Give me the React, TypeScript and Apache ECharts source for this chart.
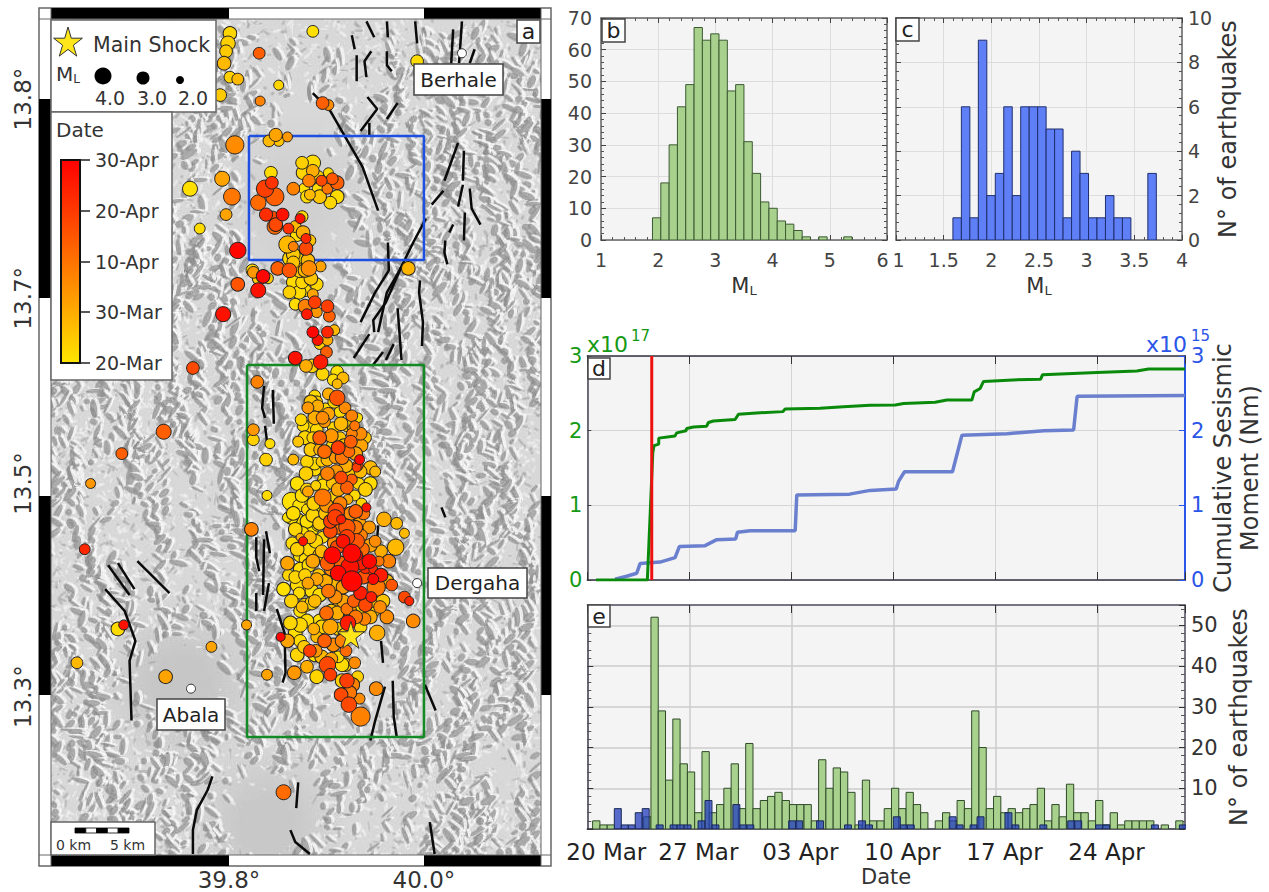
import React, { useEffect, useRef } from "react";
import * as echarts from "echarts";

const FONT = "DejaVu Sans";
const INK = "#333333";

// ---- Panel a: map. Latitude axis: the printed labels are uneven, so they are listed separately.
const lonTicks = [39.8, 40.0];
const latTicks = [13.8, 13.7, 13.607, 13.5];
const latLabels = ["13.8°", "13.7°", "13.5°", "13.3°"];
const dateBarLabels = ["30-Apr", "20-Apr", "10-Apr", "30-Mar", "20-Mar"];

const mainShock = [[39.925, 13.531]];
const towns = [
  [40.039, 13.823],
  [39.993, 13.557],
  [39.761, 13.504],
];
const blueBox = [[39.8205, 13.7814], [40.0, 13.7814], [40.0, 13.7192], [39.8205, 13.7192], [39.8205, 13.7814]];
const greenBox = [[39.8185, 13.6665], [40.0, 13.6665], [40.0, 13.4797], [39.8185, 13.4797], [39.8185, 13.6665]];

// lon, lat, ML, days after 20 March
const eventsNorth = [
  [39.801,13.833,3,3],[39.799,13.828,3.2,4],[39.797,13.824,2.8,5],[39.795,13.818,3,8],[39.801,13.811,2.6,4],
  [39.809,13.81,2.6,8],[39.791,13.802,2.8,5],[39.831,13.823,2.6,24],[39.851,13.807,2.2,3],[39.832,13.799,2.2,18],
  [39.806,13.777,4,16],[39.841,13.779,2.6,8],[39.848,13.782,2.9,12],[39.851,13.779,2.4,6],[39.86,13.781,2.2,14],
  [39.76,13.755,3.3,1],[39.793,13.76,3.3,12],[39.803,13.751,3.7,20],[39.797,13.742,2.6,12],[39.77,13.735,2.4,2],
  [39.809,13.724,3.6,40],[39.809,13.707,3,26],[39.83,13.704,3.3,38],[39.824,13.714,2.8,2],[39.794,13.692,3.3,38],
  [39.763,13.665,2.8,28],[39.868,13.67,3,38],[39.829,13.658,2.8,18],
  [39.843,13.763,2.8,2],[39.837,13.755,3.8,30],[39.844,13.758,2.8,32],[39.847,13.751,4,24],[39.83,13.748,3.4,22],
  [39.866,13.755,2.8,18],[39.838,13.742,2.9,33],[39.845,13.741,2.4,28],[39.855,13.742,2.8,38],[39.847,13.736,3.4,22],
  [39.848,13.737,3,28],[39.861,13.735,2.4,32],[39.86,13.727,3.8,8],[39.866,13.722,3,5],[39.866,13.726,2.2,18],
  [39.868,13.736,2.6,8],[39.85,13.715,3,24],[39.862,13.714,3.2,26],[39.835,13.711,3,40],[39.825,13.713,2.6,14],
  [39.831,13.71,3,4],[39.84,13.71,2.4,5],
  [39.886,13.768,3.4,2],[39.886,13.764,2.8,10],[39.875,13.768,2.8,4],[39.876,13.763,3,3],[39.882,13.759,2.8,18],
  [39.891,13.761,2.8,4],[39.895,13.759,2.4,28],[39.902,13.763,2.2,2],[39.906,13.76,2.6,26],[39.911,13.758,3,24],
  [39.901,13.755,2.4,20],[39.911,13.751,3,2],[39.904,13.748,2.8,3],[39.893,13.751,3,6],[39.883,13.752,2.4,8],
  [39.877,13.755,2.4,1],[39.88,13.751,2.8,2],[39.891,13.755,2.4,2],[39.984,13.715,3,9],[39.993,13.819,2.8,2],
  [39.886,13.834,2.6,1],[39.896,13.798,2.8,24],[39.902,13.797,2.4,16],
];
const eventsStrip = [
  [39.875,13.741,2.6,2],[39.873,13.74,2.2,38],[39.876,13.733,3,10],[39.883,13.729,2.6,6],[39.879,13.73,2.2,34],
  [39.879,13.725,3,28],[39.881,13.719,3,8],[39.882,13.715,3.4,16],[39.894,13.716,2.4,12],[39.873,13.714,3.2,6],
  [39.866,13.718,2.8,6],[39.866,13.708,3,2],[39.875,13.708,2.8,3],[39.878,13.704,2.8,2],[39.886,13.702,2.4,12],
  [39.888,13.698,2.8,30],[39.901,13.696,2.8,30],[39.878,13.696,3,18],[39.88,13.692,2.4,36],[39.89,13.693,2.4,14],
  [39.903,13.691,2.6,24],[39.908,13.684,2.4,8],[39.886,13.683,2.6,40],[39.891,13.679,2.4,38],[39.901,13.683,2.6,34],
  [39.901,13.679,2.4,10],[39.893,13.677,2.4,4],[39.9,13.673,2.6,24],[39.894,13.668,3.2,36],[39.885,13.666,3,4],
  [39.879,13.666,2.8,10],[39.896,13.662,2.8,3],[39.911,13.663,2.8,1],[39.917,13.66,2.6,8],[39.907,13.659,2.6,2],
  [39.87,13.732,3,2],[39.862,13.72,3,3],[39.87,13.72,2.8,1],[39.872,13.703,3,2],[39.862,13.703,2.8,4],
  [39.884,13.71,3,6],[39.89,13.707,2.8,3],[39.878,13.714,3,8],[39.868,13.697,2.6,2],
];
const eventsCluster = [
  [39.911,13.657,2.2,8],[39.911,13.65,3.4,26],[39.902,13.652,2.6,10],[39.888,13.651,2.6,2],[39.89,13.648,2.6,4],
  [39.881,13.645,2.6,14],[39.891,13.646,2.6,10],[39.919,13.645,2.6,16],[39.914,13.643,2.6,2],[39.926,13.641,2.6,18],
  [39.902,13.642,2.8,12],[39.888,13.64,3,10],[39.896,13.64,2.8,16],[39.874,13.639,2.6,3],[39.932,13.64,2.2,2],
  [39.881,13.635,3,1],[39.907,13.635,2.6,3],[39.921,13.636,2.6,3],[39.929,13.636,2.2,20],[39.898,13.638,2.6,14],
  [39.89,13.634,2.8,3],[39.935,13.632,2.8,16],[39.926,13.632,2.4,18],[39.914,13.63,2.6,6],[39.893,13.63,3,24],
  [39.871,13.628,2.4,6],[39.886,13.63,2.6,4],[39.936,13.626,2.8,12],[39.925,13.628,2.8,24],[39.912,13.625,3,30],
  [39.898,13.623,3,22],[39.906,13.626,2.6,2],[39.923,13.623,2.6,22],[39.893,13.624,2.6,10],[39.916,13.62,3,20],
  [39.909,13.62,2.6,14],[39.895,13.618,2.4,5],[39.934,13.619,2.2,40],[39.932,13.616,2.4,28],[39.931,13.615,2,30],
  [39.945,13.615,3,8],[39.95,13.613,2.4,8],[39.866,13.619,2.4,8],[39.88,13.618,2.8,3],[39.838,13.619,2.8,4],
  [39.842,13.627,2.2,2],[39.825,13.634,2.6,14],[39.825,13.629,2.6,4],[39.917,13.614,2,6],[39.901,13.612,3,18],
  [39.926,13.609,2.4,24],[39.915,13.61,2.8,28],[39.906,13.607,2.6,6],[39.921,13.605,2.8,24],[39.933,13.607,2.6,3],
  [39.889,13.606,2.2,4],[39.88,13.604,2.8,3],[39.881,13.603,2.4,12],[39.896,13.6,3.7,20],[39.864,13.598,4,1],
  [39.839,13.601,2.2,2],[39.907,13.6,2.8,4],[39.922,13.599,2.2,10],[39.929,13.601,2.4,2],[39.936,13.597,2.4,3],
  [39.941,13.595,2,38],[39.93,13.593,3,24],[39.91,13.593,3.6,28],[39.886,13.591,3,3],[39.88,13.594,2.4,2],
  [39.87,13.589,3,1],[39.864,13.59,3,1],[39.86,13.59,2.2,1],[39.904,13.588,3,30],[39.909,13.59,3.4,30],
  [39.915,13.589,2,36],[39.934,13.587,2.8,12],[39.921,13.585,3.6,26],[39.891,13.586,2.6,1],[39.904,13.583,3,28],
  [39.959,13.589,3.2,10],[39.972,13.587,2.6,8],[39.98,13.582,2.2,8],[39.823,13.584,3,18],[39.936,13.581,2.6,18],
  [39.883,13.58,2.8,8],[39.873,13.58,1.8,10],[39.876,13.578,2,38],[39.896,13.58,2.6,3],[39.95,13.578,2.6,16],
  [39.971,13.575,3.6,8],[39.883,13.574,3.2,3],[39.917,13.578,3,38],[39.921,13.58,3.4,30],[39.911,13.575,3,28],
  [39.931,13.578,3.4,26],[39.906,13.571,3.7,40],[39.926,13.572,4,40],[39.931,13.571,2.6,38],[39.944,13.568,3.2,40],
  [39.954,13.568,2.2,20],[39.964,13.568,3,18],[39.924,13.565,4,38],[39.86,13.567,3,12],[39.861,13.561,2.6,3],
  [39.856,13.554,3,1],[39.878,13.569,2.6,2],[39.886,13.568,3,12],[39.901,13.567,3.2,24],[39.94,13.565,2.8,34],
  [39.948,13.564,2,34],[39.936,13.567,3,36],[39.956,13.561,3,36],[39.947,13.563,2,32],[39.912,13.562,3.4,40],
  [39.89,13.559,2.8,12],[39.881,13.557,2.6,12],[39.948,13.559,2.4,40],[39.926,13.558,4.5,40],[39.951,13.555,4,20],
  [39.967,13.556,2.6,26],[39.902,13.553,3,20],[39.885,13.553,3,2],[39.917,13.555,3,14],[39.935,13.552,3,36],
  [39.946,13.55,2.4,36],[39.888,13.548,2.8,8],[39.909,13.55,3,16],[39.928,13.548,2.8,24],[39.94,13.546,3,28],
  [39.948,13.544,3.4,3],[39.98,13.55,2.6,28],[39.985,13.548,2,34],[39.9,13.542,3,22],[39.921,13.544,2.6,20],
  [39.911,13.542,3,10],[39.88,13.538,3,2],[39.939,13.539,2.8,18],[39.962,13.54,3,16],[39.989,13.538,3,16],
  [39.922,13.537,3.4,36],[39.904,13.535,3.4,12],[39.887,13.534,2.6,10],[39.818,13.536,2.2,12],[39.952,13.532,3.4,10],
  [39.853,13.53,2,40],[39.898,13.528,3,24],[39.89,13.53,2.6,8],[39.907,13.526,3,16],[39.883,13.523,2.8,30],
  [39.889,13.523,2.8,14],[39.92,13.523,2.6,22],[39.916,13.516,3,2],[39.929,13.517,2.6,16],[39.912,13.52,2.6,2],
  [39.901,13.516,3.6,28],[39.904,13.511,2.8,30],[39.839,13.511,2.4,12],[39.921,13.508,3.2,30],[39.927,13.506,3,18],
  [39.915,13.501,3,28],[39.924,13.502,3,20],[39.951,13.504,3,16],[39.923,13.496,3.4,28],[39.934,13.499,2.4,16],
  [39.935,13.49,4.2,18],
  [39.878,13.596,3,1],[39.885,13.584,3,0],[39.873,13.571,3,1],[39.878,13.561,2.8,4],[39.893,13.551,3,2],
  [39.878,13.546,3,3],[39.893,13.538,3,1],[39.914,13.546,3,4],[39.934,13.543,3,2],[39.95,13.548,3,5],
  [39.919,13.531,3,6],[39.873,13.536,3.2,3],[39.868,13.584,3,3],[39.873,13.564,3,2],[39.87,13.556,3,2],
  [39.893,13.594,3,0],[39.893,13.571,3,6],[39.919,13.564,3,10],[39.909,13.556,3,8],[39.924,13.543,3,12],
  [39.873,13.543,2.8,1],[39.898,13.609,3,2],[39.888,13.614,2.8,2],[39.873,13.528,2.8,2],[39.888,13.521,3,1],
  [39.919,13.516,3,1],
];
const eventsInfill = [
  [39.884,13.648,3,6],[39.899,13.644,3,2],[39.908,13.648,2.8,3],[39.915,13.637,3,8],[39.928,13.634,2.8,10],
  [39.878,13.63,3,3],[39.884,13.624,3,5],[39.876,13.636,2.6,2],[39.905,13.631,3,14],[39.918,13.626,3,6],
  [39.93,13.622,3,12],[39.94,13.63,2.6,6],[39.901,13.619,2.8,8],[39.888,13.617,2.8,2],[39.879,13.612,3,4],
  [39.897,13.606,3,2],[39.91,13.613,3,14],[39.92,13.616,3,10],[39.935,13.613,2.8,8],[39.945,13.607,3,2],
  [39.94,13.604,3,4],[39.87,13.607,3,1],[39.875,13.601,3,2],[39.912,13.604,3,12],[39.925,13.612,2.8,6],
  [39.872,13.596,2.8,1],[39.866,13.592,3,2],[39.88,13.588,3,1],[39.887,13.597,3,4],[39.875,13.582,3,2],
  [39.889,13.578,3,3],[39.865,13.577,2.8,2],[39.87,13.574,3,4],[39.882,13.566,3,2],[39.895,13.573,2.8,8],
  [39.893,13.587,3,5],[39.899,13.592,3,6],[39.868,13.56,2.8,3],[39.877,13.554,3,1],[39.864,13.548,3,4],
  [39.872,13.552,2.6,2],[39.885,13.547,3,4],[39.892,13.561,2.8,6],[39.899,13.558,3,10],[39.905,13.564,3,16],
  [39.9,13.596,3,14],[39.914,13.597,3,18],[39.925,13.592,3,16],[39.938,13.592,2.8,20],[39.944,13.585,2.8,14],
  [39.912,13.585,3,22],[39.93,13.585,3,20],[39.945,13.576,3,12],[39.908,13.577,3,16],[39.915,13.567,3,24],
  [39.937,13.574,3,22],[39.956,13.573,2.8,10],[39.962,13.558,3,8],[39.938,13.56,3,26],[39.917,13.548,3,12],
  [39.958,13.548,3,6],[39.945,13.54,3,10],[39.955,13.545,2.8,16],[39.93,13.54,3,20],[39.935,13.535,2.8,3],
  [39.87,13.521,3,3],[39.877,13.525,2.8,5],[39.868,13.532,3,1],[39.863,13.537,3,3],[39.88,13.515,2.8,10],
  [39.895,13.52,3,8],[39.89,13.51,3,3],[39.905,13.519,2.8,12],[39.895,13.535,3,4],[39.905,13.543,3,6],
  [39.875,13.545,2.6,8],[39.86,13.528,3,12],[39.867,13.512,3,14],[39.916,13.528,3,18],[39.912,13.534,2.8,4],
  [39.932,13.51,2.6,4],[39.916,13.508,3,4],
];
const eventsWest = [
  [39.733,13.633,3.3,24],[39.69,13.622,2.6,24],[39.658,13.607,2.2,14],[39.652,13.574,2.4,34],[39.686,13.534,3,2],
  [39.692,13.536,2.2,38],[39.644,13.517,2.6,8],[39.735,13.51,3,12],[39.782,13.525,2.4,12],[39.856,13.452,3.3,22],
];

const faultTraces = [
  [[39.886,13.803],[39.904,13.794],[39.937,13.766],[39.953,13.744]],
  [[39.941,13.839],[39.949,13.831]],
  [[39.962,13.839],[39.963,13.831]],
  [[39.991,13.839],[39.993,13.828]],
  [[40.03,13.835],[40.028,13.818]],
  [[40.039,13.839],[40.036,13.818]],
  [[39.926,13.832],[39.929,13.825]],
  [[39.931,13.822],[39.931,13.809]],
  [[39.946,13.824],[39.939,13.819],[39.941,13.811]],
  [[39.962,13.824],[39.962,13.817],[39.967,13.814]],
  [[40.052,13.825],[40.047,13.818]],
  [[39.942,13.801],[39.952,13.795],[39.935,13.784]],
  [[39.973,13.798],[39.962,13.79]],
  [[39.944,13.788],[39.944,13.781]],
  [[40.035,13.778],[40.021,13.759]],
  [[40.041,13.774],[40.04,13.759]],
  [[40.02,13.754],[40.008,13.747]],
  [[40.04,13.757],[40.035,13.746]],
  [[40.047,13.755],[40.049,13.745],[40.058,13.737]],
  [[40.03,13.737],[40.026,13.733]],
  [[40.042,13.743],[40.041,13.729]],
  [[40.022,13.729],[40.021,13.723],[40.024,13.717]],
  [[40.002,13.74],[39.989,13.728],[39.975,13.714],[39.962,13.703],[39.953,13.683]],
  [[39.963,13.728],[39.964,13.714],[39.95,13.703],[39.935,13.688]],
  [[39.977,13.716],[39.961,13.698],[39.948,13.689],[39.949,13.683]],
  [[39.996,13.709],[39.995,13.703],[39.999,13.688],[39.998,13.676]],
  [[39.973,13.695],[39.977,13.669]],
  [[39.944,13.682],[39.928,13.67]],
  [[39.958,13.673],[39.947,13.666]],
  [[39.969,13.677],[39.961,13.669]],
  [[39.836,13.656],[39.834,13.645],[39.837,13.64]],
  [[39.845,13.654],[39.846,13.637]],
  [[39.837,13.636],[39.839,13.628]],
  [[39.838,13.583],[39.842,13.572]],
  [[39.828,13.58],[39.828,13.57],[39.831,13.563]],
  [[39.836,13.579],[39.835,13.551]],
  [[39.841,13.557],[39.836,13.543]],
  [[39.828,13.552],[39.828,13.543]],
  [[39.849,13.544],[39.857,13.532],[39.858,13.512],[39.855,13.507]],
  [[39.953,13.586],[39.952,13.579]],
  [[39.956,13.528],[39.958,13.517]],
  [[39.968,13.508],[39.969,13.49],[39.972,13.48]],
  [[39.96,13.505],[39.95,13.488],[39.945,13.478]],
  [[40.001,13.506],[40.012,13.493]],
  [[40.018,13.595],[40.022,13.59]],
  [[39.676,13.566],[39.698,13.551]],
  [[39.686,13.567],[39.703,13.554]],
  [[39.706,13.568],[39.739,13.552]],
  [[39.673,13.554],[39.693,13.543],[39.704,13.528],[39.698,13.518],[39.7,13.488]],
  [[39.783,13.46],[39.778,13.453],[39.767,13.443],[39.763,13.433],[39.763,13.421]],
  [[39.871,13.457],[39.869,13.444]],
  [[39.863,13.433],[39.868,13.427],[39.883,13.421]],
  [[40.006,13.437],[40.011,13.421]],
];

// ---- Panel b / c: magnitude histograms
const binStartB = 1.9;
const binWidthB = 0.1454;
const countsB = [7,18,30,42,49,67,63,65,63,47,49,31,21,12,10,6,5,3,1,0,1,0,0,1];
const binStartC = 1.597;
const binWidthC = 0.0889;
const countsC = [1,6,1,9,2,3,6,2,6,6,6,5,5,1,4,3,1,1,2,1,1,0,0,3];

// ---- Panel d: cumulative moment [day, value]
const momentGreen = [
  [0.6,0],[4.12,0],[4.49,1.7],[4.58,1.8],[4.9,1.82],[4.9,1.9],[6.02,1.93],[6.13,1.97],[6.77,2.0],[6.82,2.03],
  [7.28,2.05],[8.19,2.06],[8.31,2.11],[8.65,2.13],[10.14,2.15],[10.37,2.22],[11.86,2.24],[13.41,2.255],[13.57,2.29],
  [15.97,2.3],[17.57,2.32],[19.4,2.34],[21.12,2.345],[21.7,2.365],[23.86,2.38],[24.67,2.41],[26.38,2.41],[26.54,2.52],
  [26.95,2.565],[27.18,2.66],[29.2,2.68],[31.1,2.69],[31.23,2.75],[34.96,2.78],[37.7,2.8],[38.5,2.825],[41,2.825],
];
const momentBlue = [
  [1.9,0.01],[2.7,0.05],[3.39,0.09],[3.62,0.22],[4.99,0.24],[6.02,0.3],[6.32,0.45],[8.08,0.46],[8.88,0.54],[10.18,0.55],
  [10.3,0.64],[11.17,0.66],[14.26,0.66],[14.37,1.14],[17.99,1.15],[19.4,1.2],[21.19,1.22],[21.35,1.32],[21.76,1.45],
  [25.05,1.45],[25.7,1.94],[28.78,1.96],[31.3,2.0],[33.36,2.01],[33.6,2.46],[41,2.47],
];
const mainShockDay = 4.42;

// ---- Panel e: daily rate histograms (half-day bins)
const rateStartGreen = 0.366;
const rateWidthGreen = 0.5;
const rateGreen = [
  2,1,1,0,0,0,0,3,52,29,12,27,16,14,4,19,4,6,10,16,5,21,5,7,8,9,7,6,6,6,2,17,10,15,14,9,1,12,2,2,5,10,5,9,6,4,0,2,4,2,
  7,5,29,20,5,8,4,5,4,5,6,10,2,6,3,11,4,4,2,7,1,4,1,2,2,2,2,0,1,0,2,
];
const rateStartBlue = 1.853;
const rateWidthBlue = 0.4785;
const rateBlue = [
  5,1,1,4,5,0,1,0,1,1,1,0,2,7,1,0,0,6,1,1,0,0,0,0,0,2,2,0,0,2,0,0,0,1,0,2,1,0,0,0,3,1,1,0,0,0,0,0,3,1,
  0,1,3,0,0,0,4,1,0,0,0,1,0,0,0,2,2,0,0,1,1,0,0,0,0,0,0,1,0,0,0,1,
];
const dateTicks = ["20 Mar", "27 Mar", "03 Apr", "10 Apr", "17 Apr", "24 Apr"];

function toBins(start: number, width: number, counts: number[]) {
  return counts.map((c, i) => [start + i * width, start + (i + 1) * width, c]);
}

// Terrain shading only: a deterministic texture standing in for the map's raster backdrop.
function hillshade(W: number, H: number): string {
  const raw = document.createElement("canvas");
  raw.width = W;
  raw.height = H;
  const ctx = raw.getContext("2d");
  if (!ctx) return "";
  let seed = 20240;
  const rnd = () => {
    seed = (Math.imul(seed, 1664525) + 1013904223) >>> 0;
    return seed / 4294967296;
  };
  const bump = (x: number, y: number, cx: number, cy: number, rx: number, ry: number) =>
    Math.exp(-(((x - cx) / rx) ** 2 + ((y - cy) / ry) ** 2));
  const flat = (x: number, y: number) =>
    Math.min(
      1,
      1.1 * bump(x, y, 240, 170, 50, 140) +
        1.2 * bump(x, y, 130, 665, 65, 60) +
        1.2 * bump(x, y, 215, 800, 65, 50) +
        0.6 * bump(x, y, 300, 620, 70, 170) +
        0.5 * bump(x, y, 300, 220, 50, 150)
    );
  ctx.fillStyle = "#d8d8d8";
  ctx.fillRect(0, 0, W, H);
  const plains: [number, number, number, string][] = [
    [130, 665, 90, "198,198,198"],
    [215, 805, 85, "200,200,200"],
    [245, 180, 90, "208,208,208"],
  ];
  plains.forEach(([cx, cy, r, c]) => {
    const g = ctx.createRadialGradient(cx, cy, r * 0.3, cx, cy, r);
    g.addColorStop(0, `rgba(${c},1)`);
    g.addColorStop(1, `rgba(${c},0)`);
    ctx.fillStyle = g;
    ctx.fillRect(cx - r, cy - r, 2 * r, 2 * r);
  });
  const blob = (x: number, y: number, len: number, wid: number, ang: number, col: string, alpha: number) => {
    ctx.globalAlpha = alpha;
    ctx.fillStyle = col;
    ctx.beginPath();
    ctx.ellipse(x, y, len, wid, ang, 0, 6.2832);
    ctx.fill();
  };
  // fine light grain
  for (let k = 0; k < 9000; k++) {
    const x = rnd() * W;
    const y = rnd() * H;
    if (rnd() < flat(x, y)) continue;
    blob(x, y, 1 + rnd() * 4, 0.6 + rnd() * 1.2, rnd() * 3.14, rnd() < 0.6 ? "#f4f4f4" : "#a8a8a8", 0.6);
  }
  // ridges run roughly north-south; shaded spurs hang off them on both sides
  for (let k = 0; k < 1000; k++) {
    let x = rnd() * W;
    let y = rnd() * H;
    const theta = 1.57 + (rnd() - 0.5) * 0.9 + 0.35 * Math.sin(x / 120 + y / 150);
    const steps = 3 + Math.floor(rnd() * 6);
    for (let j = 0; j < steps; j++) {
      x += Math.cos(theta) * 10 + (rnd() - 0.5) * 5;
      y += Math.sin(theta) * 10 + (rnd() - 0.5) * 5;
      if (rnd() < flat(x, y)) continue;
      const side = rnd() < 0.5 ? -1 : 1;
      const spur = theta + side * 0.7 + (rnd() - 0.5) * 0.6;
      const len = 3 + rnd() * 7;
      const wid = 1.2 + rnd() * 2.6;
      blob(x + 3.5, y - 1.5, len, wid * 0.9, spur, "#f5f5f5", 0.85);
      blob(x, y, len, wid, spur, "#909090", 0.72);
    }
  }
  ctx.globalAlpha = 1;
  const out = document.createElement("canvas");
  out.width = W;
  out.height = H;
  const octx = out.getContext("2d");
  if (!octx) return raw.toDataURL("image/jpeg", 0.75);
  octx.filter = "blur(0.7px)";
  octx.drawImage(raw, 0, 0);
  return out.toDataURL("image/jpeg", 0.75);
}

const starPts = [[50,0],[61,35],[98,35],[68,57],[79,91],[50,70],[21,91],[32,57],[2,35],[39,35]];

function txt(text: string, x: number, y: number, fontSize: number, extra: any = {}) {
  return {
    type: "text",
    z: 110,
    x,
    y,
    style: { text, fontFamily: FONT, fontSize, fill: INK, verticalAlign: "middle", align: "left", ...extra },
  };
}
function box(x: number, y: number, w: number, h: number, z = 100, stroke = "#666666", lw = 1.5, fill = "#ffffff") {
  return { type: "rect", z, shape: { x, y, width: w, height: h }, style: { fill, stroke, lineWidth: lw } };
}
function tagged(label: string, x: number, y: number, w: number, h: number, size: number) {
  return [
    box(x, y, w, h, 100, "#444444", 1.5),
    txt(label, x + w / 2, y + h / 2, size, { align: "center", fill: "#222222" }),
  ];
}
function blackBar(x: number, y: number, w: number, h: number) {
  return { type: "rect", z: 2, shape: { x, y, width: w, height: h }, style: { fill: "#000000" } };
}

function histSeries(xi: number, yi: number, bins: number[][], fill: string, stroke: string, z = 3) {
  return {
    type: "custom",
    xAxisIndex: xi,
    yAxisIndex: yi,
    z,
    clip: true,
    data: bins,
    encode: { x: [0, 1], y: 2 },
    renderItem: (_p: any, api: any) => {
      const n = api.value(2);
      if (!n) return null;
      const a = api.coord([api.value(0), 0]);
      const b = api.coord([api.value(1), n]);
      return {
        type: "rect",
        shape: { x: a[0], y: b[1], width: b[0] - a[0], height: a[1] - b[1] },
        style: { fill, stroke, lineWidth: 1 },
      };
    },
  };
}

const AXIS = "#666666";
function panelX(grid: number, pos: string, min: number, max: number, interval: number, o: any = {}) {
  return {
    type: "value",
    gridIndex: grid,
    position: pos,
    min,
    max,
    interval,
    axisLine: { show: true, onZero: false, lineStyle: { color: AXIS, width: 1.5 } },
    axisTick: { show: true, inside: true, length: 5, lineStyle: { color: "#444444" } },
    axisLabel: { show: false },
    splitLine: { show: false },
    ...o,
  };
}
function panelY(grid: number, pos: string, min: number, max: number, interval: number, o: any = {}) {
  return {
    type: "value",
    gridIndex: grid,
    position: pos,
    min,
    max,
    interval,
    axisLine: { show: true, onZero: false, lineStyle: { color: AXIS, width: 1.5 } },
    axisTick: { show: true, inside: true, length: 5, lineStyle: { color: "#444444" } },
    axisLabel: { show: false },
    splitLine: { show: false },
    ...o,
  };
}
const minor = (n: number, len = 3) => ({ show: true, splitNumber: n, length: len, lineStyle: { color: "#555555" } });
const split = (color = "#dddddd", width = 1) => ({ show: true, lineStyle: { color, width, type: "solid" } });
const tickLbl = (fontSize: number, color = "#444444", margin = 8, o: any = {}) => ({
  show: true,
  fontFamily: FONT,
  fontSize,
  color,
  margin,
  ...o,
});
const mlName = {
  name: "{m|M}{s|L}",
  nameLocation: "middle",
  nameGap: 34,
  nameTextStyle: {
    rich: {
      m: { fontFamily: FONT, fontSize: 21, color: INK },
      s: { fontFamily: FONT, fontSize: 13, color: INK, padding: [10, 0, 0, 0] },
    },
  },
};
const numRich = (extra: any) => ({
  n: { fontFamily: FONT, fontSize: 19, color: "#444444" },
  e: { fontFamily: FONT, fontSize: 19, color: "#444444", ...extra },
});

export default function App() {
  const ref = useRef<HTMLDivElement>(null);
  useEffect(() => {
    document.body.style.margin = "0";
    document.body.style.overflow = "hidden";
    if (!ref.current) return;
    const chart = echarts.init(ref.current, undefined, { renderer: "svg" });

    const events = [...eventsNorth, ...eventsStrip, ...eventsCluster, ...eventsInfill, ...eventsWest].sort((a, b) => a[3] - b[3]);
    const shade = hillshade(490, 836);

    const legendStar = starPts.map((p) => [53 + p[0] * 0.3, 27 + p[1] * 0.32]);
    const barYs = [160, 211, 262, 312, 363];

    const graphic: any[] = [
      { type: "rect", z: 0, shape: { x: 39, y: 8, width: 512, height: 858 }, style: { fill: "#ffffff", stroke: "#666666", lineWidth: 1.5 } },
      { type: "image", z: 1, style: { image: shade, x: 51, y: 19, width: 490, height: 836 } },
      blackBar(51, 8, 178, 11), blackBar(424, 8, 117, 11),
      blackBar(51, 855, 178, 11), blackBar(424, 855, 117, 11),
      blackBar(39, 99, 12, 199), blackBar(39, 496, 12, 199),
      blackBar(541, 99, 10, 199), blackBar(541, 496, 10, 199),
      { type: "line", z: 2, shape: { x1: 39, y1: 19, x2: 551, y2: 19 }, style: { stroke: "#666666", lineWidth: 1 } },
      { type: "line", z: 2, shape: { x1: 39, y1: 855, x2: 551, y2: 855 }, style: { stroke: "#666666", lineWidth: 1 } },
      { type: "line", z: 2, shape: { x1: 51, y1: 8, x2: 51, y2: 866 }, style: { stroke: "#666666", lineWidth: 1 } },
      { type: "line", z: 2, shape: { x1: 541, y1: 8, x2: 541, y2: 866 }, style: { stroke: "#666666", lineWidth: 1 } },

      ...tagged("a", 517, 20, 23, 23, 22),
      ...tagged("b", 602, 19, 23, 23, 22),
      ...tagged("c", 896, 18, 23, 23, 22),
      ...tagged("d", 588, 358, 22, 21, 22),
      ...tagged("e", 588, 605, 22, 22, 22),
      ...tagged("Berhale", 414, 64, 89, 31, 20),
      ...tagged("Dergaha", 428, 568, 99, 30, 20),
      ...tagged("Abala", 157, 699, 68, 31, 20),

      // symbol legend
      box(51, 20, 165, 92),
      { type: "polygon", z: 110, shape: { points: legendStar }, style: { fill: "#ffe61a", stroke: "#333333", lineWidth: 1 } },
      txt("Main Shock", 93, 45, 20.5),
      txt("{m|M}{s|L}", 56, 74, 20, {
        rich: {
          m: { fontFamily: FONT, fontSize: 20, fill: INK },
          s: { fontFamily: FONT, fontSize: 12, fill: INK, padding: [10, 0, 0, 0] },
        },
      }),
      { type: "circle", z: 110, shape: { cx: 103, cy: 76, r: 8.5 }, style: { fill: "#000000" } },
      { type: "circle", z: 110, shape: { cx: 143, cy: 78, r: 6.5 }, style: { fill: "#000000" } },
      { type: "circle", z: 110, shape: { cx: 180, cy: 80, r: 4 }, style: { fill: "#000000" } },
      txt("4.0", 110, 98, 19, { align: "center" }),
      txt("3.0", 152, 98, 19, { align: "center" }),
      txt("2.0", 193, 98, 19, { align: "center" }),

      // colour bar
      box(51, 112, 121, 268),
      txt("Date", 56, 130, 20),
      {
        type: "rect",
        z: 110,
        shape: { x: 61, y: 160, width: 19, height: 203 },
        style: {
          fill: new echarts.graphic.LinearGradient(0, 0, 0, 1, [
            { offset: 0, color: "#ff0000" },
            { offset: 1, color: "#ffe600" },
          ]),
          stroke: "#111111",
          lineWidth: 2,
        },
      },
      ...barYs.map((y) => ({ type: "line", z: 110, shape: { x1: 80, y1: y, x2: 90, y2: y }, style: { stroke: "#222222", lineWidth: 1.5 } })),
      ...dateBarLabels.map((t, i) => txt(t, 95, barYs[i], 19)),

      // scale bar
      box(51, 822, 104, 33),
      ...[0, 1, 2, 3, 4].map((i) => ({
        type: "rect",
        z: 110,
        shape: { x: 75 + i * 10.8, y: 828, width: 10.8, height: 5 },
        style: { fill: i % 2 ? "#ffffff" : "#000000", stroke: "#000000", lineWidth: 0.8 },
      })),
      txt("0 km", 56, 845, 14),
      txt("5 km", 110, 845, 14),

      // moment multipliers
      txt("x10", 587, 344, 22, { fill: "#159a15" }),
      txt("17", 631, 336, 15, { fill: "#159a15" }),
      txt("x10", 1146, 344, 22, { fill: "#2a55e8" }),
      txt("15", 1191, 336, 15, { fill: "#2a55e8" }),
    ];

    const faultSeries = faultTraces.map((f) => ({
      type: "line",
      xAxisIndex: 0,
      yAxisIndex: 0,
      data: f,
      z: 3,
      symbol: "none",
      smooth: false,
      silent: true,
      lineStyle: { color: "#0a0a0a", width: 2.5 },
    }));

    const gridBase = { show: true, backgroundColor: "#f4f4f4", borderWidth: 0, outerBoundsMode: "none" };
    const option: any = {
      animation: false,
      backgroundColor: "#ffffff",
      textStyle: { fontFamily: FONT },
      graphic: { elements: graphic },
      grid: [
        { left: 51, top: 19, width: 490, height: 836, show: false, outerBoundsMode: "none" },
        { ...gridBase, left: 601, top: 18, width: 286, height: 222 },
        { ...gridBase, left: 896, top: 18, width: 286, height: 222 },
        { ...gridBase, left: 587.3, top: 356, width: 597.7, height: 224 },
        { ...gridBase, left: 587.3, top: 605, width: 597.7, height: 224 },
      ],
      visualMap: {
        show: false,
        seriesIndex: 0,
        dimension: 3,
        min: 0,
        max: 41,
        inRange: { color: ["#ffe600", "#ff0000"] },
      },
      xAxis: [
        {
          type: "value",
          gridIndex: 0,
          min: 39.6174,
          max: 40.1201,
          axisLine: { show: false },
          axisTick: { show: false },
          splitLine: { show: false },
          axisLabel: {
            customValues: lonTicks,
            formatter: (v: number) => v.toFixed(1) + "°",
            fontFamily: FONT,
            fontSize: 23,
            color: INK,
            margin: 13,
          },
        },
        panelX(1, "bottom", 1, 6, 1, {
          minorTick: minor(5),
          splitLine: split(),
          axisLabel: tickLbl(19, "#444444", 10, {
            formatter: (v: number) => (v === 6 ? `{e|${v}}` : `{n|${v}}`),
            rich: numRich({ padding: [0, 9, 0, 0] }),
          }),
          ...mlName,
        }),
        panelX(1, "top", 1, 6, 1, { minorTick: minor(5) }),
        panelX(2, "bottom", 1, 4, 0.5, {
          minorTick: minor(5),
          splitLine: split(),
          axisLabel: tickLbl(19, "#444444", 10, {
            formatter: (v: number) => (v === 1 ? `{e|${v}}` : `{n|${v}}`),
            rich: numRich({ padding: [0, 0, 0, 5] }),
          }),
          ...mlName,
        }),
        panelX(2, "top", 1, 4, 0.5, { minorTick: minor(5) }),
        panelX(3, "bottom", 0, 41, 7, {
          axisLine: { show: true, onZero: false, lineStyle: { color: "#333344", width: 1.5 } },
          axisTick: { show: true, inside: true, length: 8, lineStyle: { color: "#333333" } },
          splitLine: split("#d4d4d4"),
        }),
        panelX(3, "top", 0, 41, 7, {
          axisLine: { show: true, onZero: false, lineStyle: { color: "#333344", width: 1.5 } },
          axisTick: { show: true, inside: true, length: 8, lineStyle: { color: "#333333" } },
        }),
        panelX(4, "bottom", 0, 41, 7, {
          axisLine: { show: true, onZero: false, lineStyle: { color: "#333344", width: 1.5 } },
          axisTick: { show: false },
          splitLine: split("#cccccc", 1.5),
          axisLabel: tickLbl(23, "#222222", 11, {
            showMaxLabel: false,
            formatter: (v: number) => {
              const t = dateTicks[v / 7];
              if (!t) return "";
              return v === 0 ? `{a|${t}}` : `{b|${t}}`;
            },
            rich: {
              a: { fontFamily: FONT, fontSize: 23, color: "#222222", padding: [0, 0, 0, 38] },
              b: { fontFamily: FONT, fontSize: 23, color: "#222222", padding: [0, 0, 0, 18] },
            },
          }),
          name: "Date",
          nameLocation: "middle",
          nameGap: 37,
          nameTextStyle: { fontFamily: FONT, fontSize: 21, color: INK },
        }),
        panelX(4, "top", 0, 41, 7, {
          axisLine: { show: true, onZero: false, lineStyle: { color: "#555566", width: 1.5 } },
          axisTick: { show: true, inside: true, length: 8, lineStyle: { color: "#333333" } },
        }),
      ],
      yAxis: [
        {
          type: "value",
          gridIndex: 0,
          min: 13.4205,
          max: 13.8402,
          axisLine: { show: false },
          axisTick: { show: false },
          splitLine: { show: false },
          axisLabel: {
            customValues: latTicks,
            formatter: (v: number) => latLabels[latTicks.indexOf(v)] ?? "",
            rotate: 90,
            fontFamily: FONT,
            fontSize: 23,
            color: INK,
            margin: 17,
          },
        },
        panelY(1, "left", 0, 70, 10, { minorTick: minor(5), splitLine: split(), axisLabel: tickLbl(19, "#444444", 9) }),
        panelY(1, "right", 0, 70, 10, { minorTick: minor(5) }),
        panelY(2, "left", 0, 10, 2, { minorTick: minor(5) }),
        panelY(2, "right", 0, 10, 2, {
          minorTick: minor(5),
          splitLine: split(),
          axisLabel: tickLbl(19, "#444444", 6),
          name: "N° of earthquakes",
          nameLocation: "middle",
          nameRotate: 90,
          nameGap: 33,
          nameTextStyle: { fontFamily: FONT, fontSize: 24, color: INK },
        }),
        panelY(3, "left", 0, 3, 1, {
          axisLine: { show: true, onZero: false, lineStyle: { color: "#444455", width: 1.5 } },
          axisTick: { show: true, inside: true, length: 4, lineStyle: { color: "#444444" } },
          splitLine: split("#d4d4d4"),
          axisLabel: tickLbl(21, "#159a15", 5),
        }),
        panelY(3, "right", 0, 3, 1, {
          axisLine: { show: true, onZero: false, lineStyle: { color: "#2a55e8", width: 2 } },
          axisTick: { show: true, inside: true, length: 6, lineStyle: { color: "#2a55e8" } },
          axisLabel: tickLbl(21, "#2a55e8", 6),
          name: "Cumulative Sesismic\nMoment (Nm)",
          nameLocation: "middle",
          nameRotate: 90,
          nameGap: 24,
          nameTextStyle: { fontFamily: FONT, fontSize: 24, lineHeight: 27, color: INK },
        }),
        panelY(4, "left", 0, 55, 10, {
          axisLine: { show: true, onZero: false, lineStyle: { color: "#444455", width: 1.5 } },
          axisTick: { show: true, inside: true, length: 6, lineStyle: { color: "#333333" } },
          minorTick: minor(5, 4),
          splitLine: split("#cccccc", 1.5),
        }),
        panelY(4, "right", 0, 55, 10, {
          axisLine: { show: true, onZero: false, lineStyle: { color: "#555566", width: 1.5 } },
          axisTick: { show: true, inside: true, length: 6, lineStyle: { color: "#333333" } },
          minorTick: minor(5, 4),
          axisLabel: tickLbl(21, "#333333", 6, {
            showMinLabel: false,
            showMaxLabel: false,
            formatter: (v: number) => (v > 0 && v <= 50 ? String(v) : ""),
          }),
          name: "N° of earthquakes",
          nameLocation: "middle",
          nameRotate: 90,
          nameGap: 42,
          nameTextStyle: { fontFamily: FONT, fontSize: 24, color: INK },
        }),
      ],
      series: [
        {
          type: "scatter",
          xAxisIndex: 0,
          yAxisIndex: 0,
          z: 5,
          data: events,
          symbol: "circle",
          symbolSize: (v: number[]) => 9 + (v[2] - 2) * 4.6,
          itemStyle: { borderColor: "#222222", borderWidth: 1, opacity: 1 },
          clip: true,
        },
        ...faultSeries,
        {
          type: "line", xAxisIndex: 0, yAxisIndex: 0, z: 4, data: blueBox, symbol: "none",
          lineStyle: { color: "#1f4fe0", width: 2.5 },
        },
        {
          type: "line", xAxisIndex: 0, yAxisIndex: 0, z: 4, data: greenBox, symbol: "none",
          lineStyle: { color: "#138a25", width: 2.5 },
        },
        {
          type: "scatter", xAxisIndex: 0, yAxisIndex: 0, z: 6, data: towns, symbol: "circle", symbolSize: 9,
          itemStyle: { color: "#ffffff", borderColor: "#333333", borderWidth: 1, opacity: 1 },
        },
        {
          type: "scatter", xAxisIndex: 0, yAxisIndex: 0, z: 7, data: mainShock,
          symbol: "path://M50 0 L61 35 L98 35 L68 57 L79 91 L50 70 L21 91 L32 57 L2 35 L39 35 Z",
          symbolSize: 27,
          itemStyle: { color: "#ffe61a", borderColor: "#333333", borderWidth: 1, opacity: 1 },
        },
        histSeries(1, 1, toBins(binStartB, binWidthB, countsB), "#a9d18e", "#3c5a32"),
        histSeries(3, 4, toBins(binStartC, binWidthC, countsC), "#5f7ff7", "#1f2f6e"),
        {
          type: "line", xAxisIndex: 5, yAxisIndex: 6, z: 3, data: momentBlue, symbol: "none",
          lineStyle: { color: "#6b7fcf", width: 3.5 },
        },
        {
          type: "line", xAxisIndex: 5, yAxisIndex: 5, z: 4, data: momentGreen, symbol: "none",
          lineStyle: { color: "#0a8a0a", width: 3 },
        },
        {
          type: "line", xAxisIndex: 5, yAxisIndex: 5, z: 5, data: [[mainShockDay, 0], [mainShockDay, 3]], symbol: "none",
          lineStyle: { color: "#ee1111", width: 3 },
        },
        histSeries(7, 7, toBins(rateStartGreen, rateWidthGreen, rateGreen), "#a9d18e", "#2f4a28", 3),
        histSeries(7, 7, toBins(rateStartBlue, rateWidthBlue, rateBlue), "rgba(35,60,190,0.75)", "#1c2a55", 4),
      ],
    };

    chart.setOption(option);
    return () => chart.dispose();
  }, []);
  return <div ref={ref} style={{ width: 1269, height: 892 }} />;
}
